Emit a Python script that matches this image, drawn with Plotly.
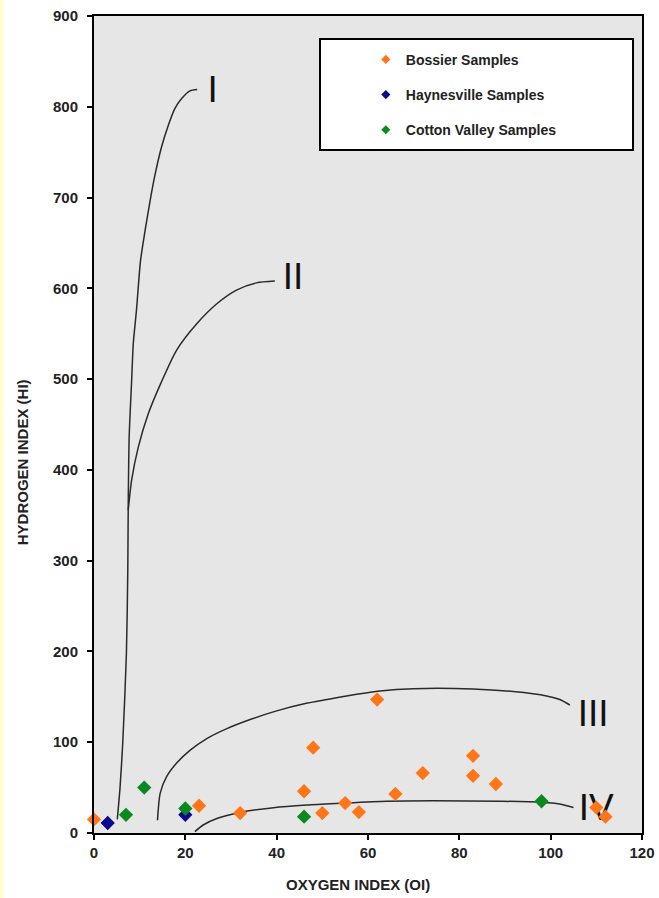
import plotly.graph_objects as go

# ---- data ----
bossier_oi = [0, 23, 32, 46, 48, 50, 55, 58, 62, 66, 72, 83, 83, 88, 110, 112]
bossier_hi = [15, 30, 22, 46, 94, 22, 33, 23, 147, 43, 66, 85, 63, 54, 28, 18]

haynes_oi = [3, 20]
haynes_hi = [11, 20]

cotton_oi = [7, 11, 20, 46, 98]
cotton_hi = [20, 50, 27, 18, 35]

curve_I_x = [5.1, 5.7, 6.3, 7.1, 7.4, 7.5, 7.7, 8.25, 8.6, 9.3, 10.2, 11.2, 12.3, 13.4, 14.8, 16.3, 17.7, 19.2, 21.0, 22.6]
curve_I_y = [15, 50, 100, 198, 290, 363, 436, 499, 539, 576, 631, 664, 697, 726, 756, 780, 798, 809, 817.5, 819]

curve_II_x = [7.5, 8.25, 9.7, 11.9, 14.6, 18.1, 22.5, 26.9, 31.2, 35.6, 39.6]
curve_II_y = [356, 389, 425, 462, 495, 532, 561, 583, 598, 606, 608]

curve_III_x = [13.9, 14.5, 15.9, 18.1, 21.0, 24.7, 29.1, 34.2, 40.0, 45.8, 51.7, 57.5, 62.6, 69.9, 83.0, 91.8, 99.1, 102.0, 104.2]
curve_III_y = [14, 44, 62, 77, 91, 104, 115, 125, 134.5, 142, 147.6, 152.8, 156.5, 159, 158.7, 155.8, 151, 147, 141]

curve_IV_x = [22.1, 23.9, 26.9, 32, 39.3, 46.6, 53.9, 64.1, 74.3, 88.9, 97.7, 102, 105]
curve_IV_y = [1.5, 8.8, 16, 22.7, 27.9, 30.8, 32.7, 35, 35.5, 35, 34, 32, 28]

curve_labels = ["I", "II", "III", "IV"]
label_x = [26, 43.6, 109.3, 110]
label_y = [816, 609, 128, 24]

x_ticks = [0, 20, 40, 60, 80, 100, 120]
y_ticks = [0, 100, 200, 300, 400, 500, 600, 700, 800, 900]

ORANGE = "#ff7518"
NAVY = "#0a0a8c"
GREEN = "#0a8a1e"
FONT = "Arial, Liberation Sans, sans-serif"

fig = go.Figure()

for cx, cy in [(curve_I_x, curve_I_y), (curve_II_x, curve_II_y),
               (curve_III_x, curve_III_y), (curve_IV_x, curve_IV_y)]:
    fig.add_trace(go.Scatter(x=cx, y=cy, mode="lines", line=dict(color="#2a2a2a", width=1.5, shape="spline", smoothing=0.7),
                             showlegend=False, hoverinfo="skip"))

fig.add_trace(go.Scatter(x=label_x, y=label_y, mode="text", text=curve_labels,
                         textfont=dict(family=FONT, size=37, color="#111"), showlegend=False, hoverinfo="skip",
                         cliponaxis=False))

series = [("Bossier Samples", bossier_oi, bossier_hi, ORANGE),
          ("Haynesville Samples", haynes_oi, haynes_hi, NAVY),
          ("Cotton Valley Samples", cotton_oi, cotton_hi, GREEN)]

for name, xs, ys, col in series:
    fig.add_trace(go.Scatter(x=xs, y=ys, mode="markers", name=name, showlegend=False,
                             marker=dict(symbol="diamond", size=11, color=col), cliponaxis=False))

for i, (name, xs, ys, col) in enumerate(series):
    fig.add_trace(go.Scatter(x=[None], y=[None], mode="markers", name=name, legendgroup=f"g{i}",
                             marker=dict(symbol="diamond", size=7, color=col)))

fig.update_xaxes(range=[0, 120], tickvals=x_ticks, showgrid=False, zeroline=False, automargin=False,
                 showline=True, linecolor="black", linewidth=2, mirror=True,
                 ticks="outside", ticklen=5, tickwidth=2, tickcolor="black",
                 tickfont=dict(family=FONT, size=15, color="#222", weight="bold"))
fig.update_yaxes(range=[0, 900], tickvals=y_ticks, showgrid=False, zeroline=False, automargin=False,
                 showline=True, linecolor="black", linewidth=2, mirror=True,
                 ticks="outside", ticklen=5, tickwidth=2, tickcolor="black",
                 ticklabelstandoff=6,
                 tickfont=dict(family=FONT, size=15, color="#222", weight="bold"))

fig.update_layout(
    width=659, height=898,
    margin=dict(l=94, r=17, t=16, b=65, autoexpand=False),
    paper_bgcolor="white",
    plot_bgcolor="#e6e6e6",
    legend=dict(x=0.496, y=0.966, xanchor="left", yanchor="top", bgcolor="rgba(0,0,0,0)",
                borderwidth=0, tracegroupgap=14,
                font=dict(family=FONT, size=14, color="#222", weight="bold")),
    shapes=[
        dict(type="rect", xref="paper", yref="paper", x0=0.4124, x1=0.9836, y0=0.836, y1=0.9718,
             line=dict(color="black", width=2), fillcolor="white", layer="above"),
        dict(type="rect", xref="paper", yref="paper", x0=-0.1715, x1=-0.1660, y0=-0.08, y1=1.02,
             line=dict(width=0), fillcolor="#ffffc8", layer="below"),
    ],
    annotations=[
        dict(text="OXYGEN INDEX (OI)", xref="paper", yref="paper", x=0.482, y=-0.0636,
             xanchor="center", yanchor="middle", showarrow=False,
             font=dict(family=FONT, size=15, color="#222", weight="bold")),
        dict(text="HYDROGEN INDEX (HI)", xref="paper", yref="paper", x=-0.131, y=0.454,
             xanchor="center", yanchor="middle", showarrow=False, textangle=-90,
             font=dict(family=FONT, size=15, color="#222", weight="bold")),
    ],
)

fig.write_html("out.html", config={"displayModeBar": False},
               post_script="document.body.style.margin='0';document.body.style.overflow='hidden';")
